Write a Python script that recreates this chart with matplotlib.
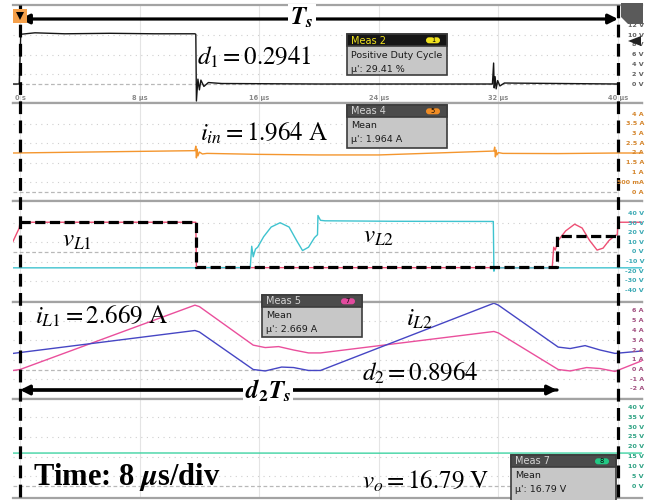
import numpy as np
import matplotlib.pyplot as plt
import matplotlib.transforms as mtransforms
from matplotlib.patches import Rectangle, FancyBboxPatch, Polygon

plt.rcParams['mathtext.fontset'] = 'stix'
plt.rcParams['font.family'] = ['DejaVu Sans']

# ---------------- data (time in us) ----------------
# CH1: gate signal d1 (V)
t_gate = [-0.47, -0.05, 0.05, 1.0, 3.0, 6.0, 9.0, 11.7, 11.76, 11.8, 11.9, 12.0, 12.1,
          12.3, 12.6, 13.5, 20.0, 31.6, 31.68, 31.72, 31.78, 31.85, 31.95, 32.1, 32.4, 40.0]
v_gate = [0.0, 0.0, 10.2, 10.5, 10.3, 10.4, 10.3, 10.3, 10.2, -3.5, 1.0, -1.2, 0.8,
          -0.5, 0.3, 0.1, 0.0, 0.0, 4.3, -0.8, 1.5, -1.0, 0.7, -0.4, 0.2, 0.0]

# input current i_in (A)
t_iin = [-0.47, 11.7, 11.76, 11.8, 11.85, 11.9, 12.0, 12.2, 12.5, 16.0, 20.0, 24.0,
         31.7, 31.75, 31.8, 31.85, 31.9, 32.0, 32.3, 36.0, 40.0, 41.6]
i_in = [2.0, 2.12, 2.35, 1.75, 2.2, 1.85, 2.05, 1.95, 1.98, 1.93, 1.9, 1.9,
        2.1, 2.3, 1.8, 2.15, 1.9, 2.02, 1.98, 1.97, 2.0, 2.0]

# inductor voltages (V)
t_vl1 = [-0.47, -0.05, 0.0, 11.7, 11.76, 11.8, 35.6, 35.7, 35.8, 36.0, 36.5, 37.1,
         37.6, 38.1, 38.6, 39.0, 39.4, 39.8, 39.95, 40.0, 41.6]
v_l1 = [11.0, 25.0, 31.0, 31.0, 31.0, -16.3, -16.3, 5.0, 2.0, 12.0, 22.0, 29.0,
        25.0, 12.0, 2.0, 4.0, 12.0, 17.0, 18.0, 31.0, 31.0]

t_vl2 = [-0.47, 11.7, 11.76, 11.8, 15.4, 15.5, 15.6, 15.75, 15.9, 16.3, 16.8, 17.4,
         18.0, 18.5, 18.9, 19.3, 19.7, 19.9, 19.93, 20.1, 20.4, 25.0, 31.6, 31.66,
         31.7, 31.75, 35.0, 40.0, 41.6]
v_l2 = [-16.5, -16.5, -17.5, -16.3, -16.3, 6.0, -5.0, 3.0, 5.0, 16.0, 26.0, 30.5,
        26.0, 12.0, 1.5, 5.0, 15.0, 18.0, 38.0, 33.0, 32.5, 32.0, 31.8, 31.8,
        -20.0, -16.5, -16.5, -16.5, -16.5]

# idealised v_L1 drawn as dashed overlay
t_vl1_ideal = [0.0, 11.76, 11.76, 35.9, 35.9, 40.0]
v_l1_ideal = [31.0, 31.0, -16.0, -16.0, 16.7, 16.7]

# inductor currents (A)
t_il1 = [-0.47, 0.0, 11.7, 12.0, 15.6, 16.4, 17.3, 18.3, 19.3, 20.1, 31.7, 32.0,
         36.0, 36.8, 37.9, 38.8, 39.8, 41.6]
i_l1 = [-0.1, 0.0, 6.6, 6.45, 2.5, 2.25, 2.35, 2.0, 1.7, 1.7, 3.9, 3.75,
        0.0, -0.15, 0.2, 0.1, -0.2, 0.9]

t_il2 = [-0.47, 11.7, 12.0, 15.6, 16.4, 17.5, 18.3, 19.3, 20.1, 31.7, 32.0, 36.0,
         36.8, 37.8, 38.8, 39.8, 41.6]
i_l2 = [1.65, 4.0, 3.85, 0.0, -0.15, 0.25, 0.2, -0.1, -0.1, 6.8, 6.6, 2.3,
        2.15, 2.45, 2.0, 1.65, 1.9]

# output voltage (V)
t_vo = [-0.47, 8.0, 16.0, 24.0, 32.0, 40.0, 41.6]
v_o = [16.8, 16.85, 16.8, 16.75, 16.8, 16.8, 16.8]

time_ticks = [0, 8, 16, 24, 32, 40]
time_labels = ['0 s', '8 µs', '16 µs', '24 µs', '32 µs', '40 µs']

scale1 = [12, 10, 8, 6, 4, 2, 0]
scale1_lbl = ['12 V', '10 V', '8 V', '6 V', '4 V', '2 V', '0 V']
scale2 = [4, 3.5, 3, 2.5, 2, 1.5, 1, 0.5, 0]
scale2_lbl = ['4 A', '3.5 A', '3 A', '2.5 A', '2 A', '1.5 A', '1 A', '500 mA', '0 A']
scale3 = [40, 30, 20, 10, 0, -10, -20, -30, -40]
scale3_lbl = ['40 V', '30 V', '20 V', '10 V', '0 V', '-10 V', '-20 V', '-30 V', '-40 V']
scale4 = [6, 5, 4, 3, 2, 1, 0, -1, -2]
scale4_lbl = ['6 A', '5 A', '4 A', '3 A', '2 A', '1 A', '0 A', '-1 A', '-2 A']
scale5 = [40, 35, 30, 25, 20, 15, 10, 5, 0]
scale5_lbl = ['40 V', '35 V', '30 V', '25 V', '20 V', '15 V', '10 V', '5 V', '0 V']

# ---------------- layout ----------------
W, H = 649, 500
fig = plt.figure(figsize=(W / 100, H / 100), dpi=100)

T0_PX, T40_PX = 20, 618
PX_US = (T40_PX - T0_PX) / 40.0
X_LEFT, X_RIGHT = 13, 642
XLIM = ((X_LEFT - T0_PX) / PX_US, (X_RIGHT - T0_PX) / PX_US)
GRID_END = (T40_PX - X_LEFT) / (X_RIGHT - X_LEFT)


def panel(top, bottom, zero_px, px_per_unit, levels):
    ax = fig.add_axes([X_LEFT / W, 1 - bottom / H, (X_RIGHT - X_LEFT) / W, (bottom - top) / H])
    ax.set_xlim(*XLIM)
    ax.set_ylim((zero_px - bottom) / px_per_unit, (zero_px - top) / px_per_unit)
    ax.set_xticks([])
    ax.set_yticks([])
    for s in ['left', 'right']:
        ax.spines[s].set_visible(False)
    for s in ['top', 'bottom']:
        ax.spines[s].set_color('#a3a3a3')
        ax.spines[s].set_linewidth(1.6)
    for t in time_ticks:
        ax.axvline(t, color='#e4e4e4', lw=0.8, zorder=0)
    for k, lv in enumerate(levels):
        if k % 2 == 1:
            ax.axhline(lv, xmax=GRID_END, color='#cfcfcf', lw=0.8, ls=(0, (1, 4)), zorder=0)
    ax.axhline(0, xmax=GRID_END, color='#b8b8b8', lw=0.9, ls=(0, (3, 2)), zorder=0)
    return ax


ax1 = panel(5, 103, 84, 4.875, scale1)
ax2 = panel(103, 201, 192, 19.5, scale2)
ax3 = panel(201, 302, 252, 0.96, scale3)
ax4 = panel(302, 399, 369.5, 9.75, scale4)
ax5 = panel(399, 498, 486, 1.96, scale5)

ax1.plot(t_gate, v_gate, color='#151515', lw=1.0)
for t, s in zip(time_ticks, time_labels):
    ax1.text(t, -2.9, s, ha='center', va='center', fontsize=4.8,
             fontweight='bold', color='#8a8a8a')

ax2.plot(t_iin, i_in, color='#f4962e', lw=1.0)

ax3.plot(t_vl1, v_l1, color='#ee4f74', lw=1.0)
ax3.plot(t_vl2, v_l2, color='#3fc3cf', lw=1.0)
ax3.plot(t_vl1_ideal, v_l1_ideal, color='black', lw=2.3, ls=(0, (3.2, 1.4)), zorder=4)

ax4.plot(t_il1, i_l1, color='#ea4f9c', lw=1.0)
ax4.plot(t_il2, i_l2, color='#4646c4', lw=1.0)

ax5.plot(t_vo, v_o, color='#3ed3a2', lw=1.0)

# ---------------- overlay annotations (pixel coordinates) ----------------
ov = fig.add_axes([0, 0, 1, 1])
ov.set_xlim(0, W)
ov.set_ylim(H, 0)
ov.axis('off')
ov.patch.set_alpha(0)

for xp in (T0_PX, T40_PX):
    ov.plot([xp, xp], [5, 500], color='black', lw=2.3, ls=(0, (4, 2)), zorder=3)

# channel scale labels, drawn above the dashed marker lines
for ax, levels, labels, col in [(ax1, scale1, scale1_lbl, '#606060'),
                                (ax2, scale2, scale2_lbl, '#d4852c'),
                                (ax3, scale3, scale3_lbl, '#3aa9b4'),
                                (ax4, scale4, scale4_lbl, '#a24f80'),
                                (ax5, scale5, scale5_lbl, '#2ea283')]:
    tr = mtransforms.blended_transform_factory(ov.transData, ax.transData)
    for lv, s in zip(levels, labels):
        ov.text(644, lv, s, transform=tr, ha='right', va='center', fontsize=4.6,
                fontweight='bold', color=col, zorder=10)

# period arrows
ov.annotate('', xy=(T0_PX, 19), xytext=(T40_PX, 19),
            arrowprops=dict(arrowstyle='<|-|>', color='black', lw=2.3,
                            mutation_scale=14, shrinkA=0, shrinkB=0))
ov.text(302, 18, r'$\mathbfit{T}_{\mathbfit{s}}$', fontsize=18, ha='center', va='center',
        bbox=dict(fc='white', ec='none', pad=1.5), zorder=6)
ov.annotate('', xy=(T0_PX, 390), xytext=(557, 390),
            arrowprops=dict(arrowstyle='-|>', color='black', lw=2.3,
                            mutation_scale=14, shrinkA=0, shrinkB=0))
ov.annotate('', xy=(557, 390), xytext=(T0_PX + 5, 390),
            arrowprops=dict(arrowstyle='-|>', color='black', lw=2.3,
                            mutation_scale=14, shrinkA=0, shrinkB=0))
ov.text(268, 391, r'$\mathbfit{d}_{\mathbf{2}}\mathbfit{T}_{\mathbfit{s}}$', fontsize=18,
        ha='center', va='center', bbox=dict(fc='white', ec='none', pad=1.5), zorder=6)

# scope markers
ov.add_patch(Rectangle((13, 9), 14, 14, fc='#f5a04a', ec='none', zorder=4))
ov.add_patch(Polygon([[16, 12], [24, 12], [20, 20]], closed=True, fc='black', ec='none', zorder=5))
ov.add_patch(Polygon([[621, 3], [643, 3], [643, 24], [628, 24], [621, 17]], closed=True,
                     fc='#5a5a5a', ec='none', zorder=4))
ov.add_patch(Polygon([[628, 41], [641, 36], [641, 46]], closed=True, fc='#222222', ec='none', zorder=11))


def meas_box(x, y, w, h, title, title_color, head_color, badge, badge_color, lines):
    ov.add_patch(Rectangle((x, y), w, h, fc='#c7c7c7', ec='#3c3c3c', lw=1.2, zorder=6))
    ov.add_patch(Rectangle((x, y), w, 12, fc=head_color, ec='#3c3c3c', lw=1.2, zorder=7))
    ov.text(x + 4, y + 6.5, title, color=title_color, fontsize=7.0, va='center', zorder=8)
    ov.add_patch(FancyBboxPatch((x + w - 21, y + 3.3), 14, 6,
                                boxstyle='round,pad=0,rounding_size=3',
                                fc=badge_color, ec='none', zorder=8))
    ov.text(x + w - 14, y + 6.4, badge, fontsize=4.8, ha='center', va='center', zorder=9)
    for k, s in enumerate(lines):
        ov.text(x + 4, y + 21 + k * 14, s, fontsize=6.8, color='#1c1c1c', va='center', zorder=8)


meas_box(347, 34, 100, 41, 'Meas 2', '#f0e21e', '#161616', '1', '#f0e21e',
         ['Positive Duty Cycle', "µ': 29.41 %"])
meas_box(347, 105, 100, 43, 'Meas 4', '#d4d4d4', '#4b4b4b', '5', '#f08c24',
         ['Mean', "µ': 1.964 A"])
meas_box(262, 295, 100, 42, 'Meas 5', '#d4d4d4', '#4b4b4b', '7', '#e24a9e',
         ['Mean', "µ': 2.669 A"])
meas_box(511, 455, 105, 50, 'Meas 7', '#d4d4d4', '#4b4b4b', '8', '#22c884',
         ['Mean', "µ': 16.79 V"])

# value annotations
big = 18
ov.text(197, 57, r'$d_1 = 0.2941$', fontsize=big, va='center', zorder=6)
ov.text(200, 133, r'$i_{in} = 1.964\ \mathrm{A}$', fontsize=big, va='center', zorder=6)
ov.text(62, 240, r'$v_{L1}$', fontsize=big, va='center', zorder=6)
ov.text(363, 236, r'$v_{L2}$', fontsize=big, va='center', zorder=6)
ov.text(35, 316, r'$i_{L1} = 2.669\ \mathrm{A}$', fontsize=big, va='center', zorder=6)
ov.text(406, 319, r'$i_{L2}$', fontsize=big, va='center', zorder=6)
ov.text(362, 373, r'$d_2 = 0.8964$', fontsize=big, va='center', zorder=6)
ov.text(362, 481, r'$v_o = 16.79\ \mathrm{V}$', fontsize=big, va='center', zorder=6)
ov.text(33, 477, r'Time: 8 $\mathbfit{\mu}$s/div', fontsize=22, fontweight='bold',
        family=['Liberation Serif', 'DejaVu Serif'], va='center', zorder=6)

fig.savefig('out.png', dpi=100)
